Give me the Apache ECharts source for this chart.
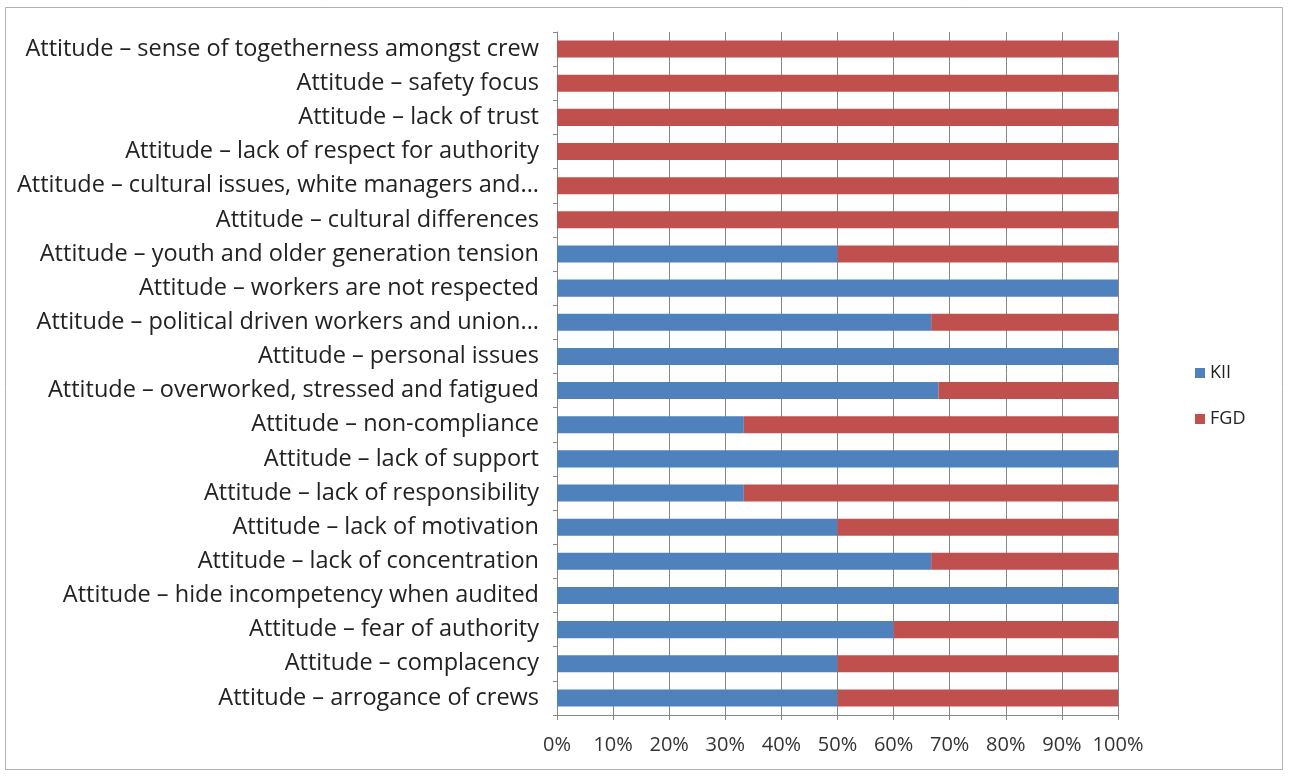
<!DOCTYPE html>
<html>
<head>
<meta charset="utf-8">
<script src="https://cdn.jsdelivr.net/npm/echarts@6/dist/echarts.min.js"></script>
<style>
  html, body { margin: 0; padding: 0; background: #fff; }
  #chart { width: 1290px; height: 776px; }
</style>
</head>
<body>
<div id="chart"></div>
<script>
// categories bottom -> top (as ECharts category axis draws them)
var categories = [
  'Attitude \u2013 arrogance of crews',
  'Attitude \u2013 complacency',
  'Attitude \u2013 fear of authority',
  'Attitude \u2013 hide incompetency when audited',
  'Attitude \u2013 lack of concentration',
  'Attitude \u2013 lack of motivation',
  'Attitude \u2013 lack of responsibility',
  'Attitude \u2013 lack of support',
  'Attitude \u2013 non-compliance',
  'Attitude \u2013 overworked, stressed and fatigued',
  'Attitude \u2013 personal issues',
  'Attitude \u2013 political driven workers and union...',
  'Attitude \u2013 workers are not respected',
  'Attitude \u2013 youth and older generation tension',
  'Attitude \u2013 cultural differences',
  'Attitude \u2013 cultural issues, white managers and...',
  'Attitude \u2013 lack of respect for authority',
  'Attitude \u2013 lack of trust',
  'Attitude \u2013 safety focus',
  'Attitude \u2013 sense of togetherness amongst crew'
]

var kii = [50, 50, 60, 100, 66.7, 50, 33.3, 100, 33.3, 68, 100, 66.7, 100, 50, 0, 0, 0, 0, 0, 0]
var fgd = [50, 50, 40, 0, 33.3, 50, 66.7, 0, 66.7, 32, 0, 33.3, 0, 50, 100, 100, 100, 100, 100, 100]

var xTicks = [0, 10, 20, 30, 40, 50, 60, 70, 80, 90, 100]

var chart = echarts.init(document.getElementById('chart'))

var labelFont = 'Open Sans'

var option = {
  backgroundColor: '#fff',
  animation: false,
  graphic: [{
    type: 'rect',
    shape: { x: 5.5, y: 7.5, width: 1277, height: 762 },
    style: { fill: 'none', stroke: '#b0b0b0', lineWidth: 1 }
  }],
  legend: {
    orient: 'vertical',
    left: 1190,
    top: 359,
    itemWidth: 10,
    itemHeight: 10,
    itemGap: 28,
    icon: 'rect',
    textStyle: { fontFamily: labelFont, fontSize: 18, color: '#222' },
    data: ['KII', 'FGD']
  },
  grid: {
    left: 557,
    right: 172,
    top: 32,
    bottom: 61
  },
  xAxis: {
    type: 'value',
    min: 0,
    max: 100,
    interval: 10,
    axisLine: { show: true, lineStyle: { color: '#868686' } },
    axisTick: { show: true, length: 5, lineStyle: { color: '#868686' } },
    splitLine: { show: true, lineStyle: { color: '#868686', width: 1 } },
    axisLabel: {
      margin: 20,
      fontFamily: labelFont,
      fontSize: 20,
      color: '#333',
      formatter: function (v) { return xTicks.indexOf(v) >= 0 ? v + '%' : '' }
    }
  },
  yAxis: {
    type: 'category',
    data: categories,
    axisLine: { show: true, lineStyle: { color: '#868686' } },
    axisTick: { show: true, length: 4, lineStyle: { color: '#868686' } },
    axisLabel: {
      margin: 18,
      fontFamily: labelFont,
      fontSize: 23.5,
      color: '#222'
    }
  },
  series: [{
    name: 'KII',
    type: 'bar',
    stack: 'total',
    barCategoryGap: '50%',
    itemStyle: { color: '#4F81BD' },
    data: kii
  }, {
    name: 'FGD',
    type: 'bar',
    stack: 'total',
    barCategoryGap: '50%',
    itemStyle: { color: '#C0504D' },
    data: fgd
  }]
}

chart.setOption(option)
</script>
</body>
</html>
